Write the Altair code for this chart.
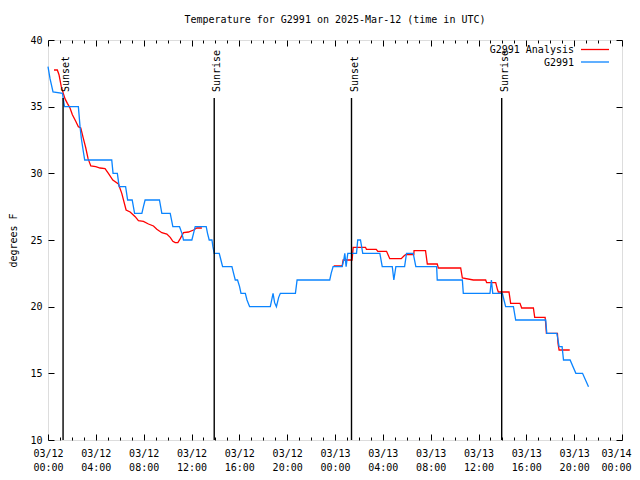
import altair as alt
import pandas as pd

FONT = "DejaVu Sans Mono"

# ---- data (hours after 2025-03-12 00:00 UTC, temperature in degF) ----
obs_hours = [0.00, 0.17, 0.42, 1.21, 1.38, 2.54, 2.68, 2.79, 2.96, 3.07, 5.33, 5.44, 5.80, 5.95,
             6.49, 6.66, 7.04, 7.24, 7.85, 7.98, 8.12, 9.32, 9.52, 10.22, 10.44, 11.00, 11.20,
             11.33, 12.03, 12.17, 12.31, 13.23, 13.34, 13.48, 13.71, 13.79, 13.90, 14.32, 14.46,
             14.60, 15.38, 15.52, 15.66, 15.85, 16.02, 16.14, 16.50, 16.64, 16.86, 18.59, 18.82,
             18.95, 19.10, 19.29, 19.43, 20.69, 20.83, 23.56, 23.68, 23.84, 24.60, 24.73, 24.82,
             24.93, 25.07, 25.80, 25.90, 26.13, 26.32, 27.75, 27.95, 28.79, 28.92, 29.09, 29.82,
             29.98, 30.54, 30.76, 32.50, 32.55, 34.65, 34.73, 36.96, 37.08, 37.19, 38.00, 38.13,
             38.27, 38.92, 39.11, 41.62, 41.71, 42.55, 42.65, 42.74, 42.99, 43.11, 43.66, 44.14,
             44.70, 45.20]
obs_temps = [38.0, 37.1, 36.1, 36.0, 35.0, 35.0, 33.5, 32.6, 31.6, 31.0, 31.0, 30.0, 30.0, 29.0,
             29.0, 28.0, 28.0, 27.0, 27.0, 27.5, 28.0, 28.0, 27.0, 27.0, 26.0, 26.0, 25.5,
             25.0, 25.0, 25.5, 26.0, 26.0, 25.5, 25.0, 25.0, 24.5, 24.0, 24.0, 23.5,
             23.0, 23.0, 22.5, 22.0, 22.0, 21.5, 21.0, 21.0, 20.5, 20.0, 20.0, 21.0,
             20.3, 20.0, 20.7, 21.0, 21.0, 22.0, 22.0, 22.5, 23.0, 23.0, 23.5, 24.0,
             23.0, 24.0, 24.0, 25.0, 25.0, 24.0, 24.0, 23.0, 23.0, 22.0, 23.0, 23.0,
             24.0, 24.0, 23.0, 23.0, 22.0, 22.0, 21.0, 21.0, 22.0, 21.0, 21.0, 20.5,
             20.0, 20.0, 19.0, 19.0, 18.0, 18.0, 17.5, 17.0, 17.0, 16.0, 16.0, 15.0,
             15.0, 14.0]

ana1_hours = [0.50, 0.78, 0.92, 1.11, 1.28, 1.42, 1.62, 1.84, 2.04, 2.32, 2.54, 2.74, 2.96, 3.16,
              3.35, 3.58, 3.99, 4.36, 4.77, 5.05, 5.42, 5.89, 6.17, 6.53, 6.87, 7.29, 7.56, 7.98,
              8.40, 8.82, 9.10, 9.52, 9.94, 10.22, 10.44, 10.64, 10.86, 11.06, 11.33, 11.75,
              12.17, 12.45, 12.87]
ana1_temps = [37.75, 37.75, 37.4, 36.5, 36.0, 35.6, 35.25, 34.9, 34.4, 33.9, 33.5, 33.4, 32.6, 31.9,
              31.1, 30.55, 30.5, 30.4, 30.35, 30.0, 29.5, 29.2, 28.5, 27.25, 27.1, 26.75, 26.45, 26.4,
              26.2, 26.05, 25.8, 25.55, 25.45, 25.2, 24.9, 24.8, 24.8, 25.1, 25.55, 25.6,
              25.75, 25.9, 25.9]

ana2_hours = [23.89, 24.60, 24.68, 25.43, 25.52, 26.55, 26.63, 27.45, 27.58, 28.31, 28.58, 29.54,
              29.76, 29.90, 30.59, 30.61, 31.57, 31.72, 32.55, 32.64, 34.51, 34.65, 35.57, 36.60,
              36.68, 37.44, 37.58, 37.66, 38.55, 38.69, 39.47, 39.61, 40.59, 40.70, 41.57, 41.62,
              41.68, 42.60, 42.65, 42.74, 43.63]
ana2_temps = [23.05, 23.05, 23.5, 23.5, 24.45, 24.45, 24.3, 24.3, 24.15, 24.15, 23.6, 23.6,
              23.8, 23.9, 23.9, 24.2, 24.2, 23.2, 23.2, 22.9, 22.9, 22.15, 22.0, 22.0,
              21.8, 21.8, 21.3, 21.1, 21.1, 20.25, 20.25, 19.9, 19.9, 19.2, 19.2, 18.75,
              18.0, 18.0, 17.25, 16.75, 16.75]

event_hours = [1.26, 13.90, 25.38, 37.94, 49.40]
event_labels = ["Sunset", "Sunrise", "Sunset", "Sunrise", "Sunset"]

y_ticks = [10, 15, 20, 25, 30, 35, 40]
x_tick_hours = list(range(0, 49))

series_names = ["G2991 Analysis", "G2991"]
series_colors = ["#ff0000", "#0a84ff"]

T0 = pd.Timestamp("2025-03-12T00:00:00Z")


def iso(hours):
    return [(T0 + pd.Timedelta(hours=h)).strftime("%Y-%m-%dT%H:%M:%SZ") for h in hours]


def dt(h):
    return alt.DateTime(year=2025, month=3, date=12 + h // 24, hours=h % 24, utc=True)


obs_df = pd.DataFrame({"time": iso(obs_hours), "temp": obs_temps})
ana_df = pd.DataFrame({
    "time": iso(ana1_hours) + iso(ana2_hours),
    "temp": ana1_temps + ana2_temps,
    "seg": [1] * len(ana1_hours) + [2] * len(ana2_hours),
})
ev_df = pd.DataFrame({"time": iso(event_hours), "label": event_labels})

x_scale = alt.Scale(type="utc", domain=[dt(0), dt(48)], nice=False)
y_scale = alt.Scale(domain=[10, 40], nice=False, zero=False)

x_axis = alt.Axis(
    values=[dt(h) for h in x_tick_hours],
    labelExpr="utchours(datum.value) % 4 == 0 ? [utcFormat(datum.value, '%m/%d'), utcFormat(datum.value, '%H:%M')] : ''",
    grid=True, gridColor="black", gridWidth=1, gridOpacity=1,
    gridDash={"condition": {"test": "utchours(datum.value) % 4 == 0", "value": [6, 388, 6, 400]},
              "value": [3, 394, 3, 400]},
    labelOffset={"condition": {"test": "utcdate(datum.value) == 14", "value": -6}, "value": 0},
    ticks=False, domain=False, labelOverlap=False, labelFlush=False, labelBound=False,
    labelFont=FONT, labelFontSize=10, labelColor="black", labelPadding=8,
    labelLineHeight=14, labelBaseline="top", title=None,
)
y_axis = alt.Axis(
    values=y_ticks, grid=True, gridColor="black", gridWidth=1, gridOpacity=1,
    gridDash=[6, 562, 6, 600], ticks=False, domain=False,
    labelFont=FONT, labelFontSize=10, labelColor="black", labelPadding=6,
    title="degrees F", titleFont=FONT, titleFontSize=10, titleFontWeight="normal",
    titleColor="black", titlePadding=11,
)

X = alt.X("time:T", scale=x_scale, axis=x_axis)
Y = alt.Y("temp:Q", scale=y_scale, axis=y_axis)

ana_line = alt.Chart(ana_df).mark_line(color=series_colors[0], strokeWidth=1.3).encode(
    x=X, y=Y, detail="seg:N")
obs_line = alt.Chart(obs_df).mark_line(color=series_colors[1], strokeWidth=1.3).encode(x=X, y=Y)

ev_rule = alt.Chart(ev_df).mark_rule(color="black", strokeWidth=1.4).encode(
    x=X, y=alt.value(58), y2=alt.value(400))
ev_text = alt.Chart(ev_df).mark_text(
    angle=270, align="left", baseline="alphabetic", dy=6, font=FONT, fontSize=10, color="black"
).encode(x=X, text="label:N", y=alt.value(52))

leg_df = pd.DataFrame({"name": series_names, "color": series_colors, "row": [0, 1]})
leg_text = []
leg_rule = []
for i, (nm, col) in enumerate(zip(series_names, series_colors)):
    sub = leg_df[leg_df["row"] == i]
    leg_text.append(alt.Chart(sub).mark_text(
        align="right", baseline="middle", font=FONT, fontSize=10, color="black"
    ).encode(text="name:N", x=alt.value(526), y=alt.value(10 + 12.5 * i)))
    leg_rule.append(alt.Chart(sub).mark_rule(color=col, strokeWidth=1.3).encode(
        x=alt.value(533), x2=alt.value(561), y=alt.value(9.5 + 12.5 * i)))

chart = alt.layer(ana_line, obs_line, ev_rule, ev_text, *leg_text, *leg_rule).properties(
    width=574, height=400,
    title=alt.Title("Temperature for G2991 on 2025-Mar-12 (time in UTC)", font=FONT,
                    fontSize=10, fontWeight="normal", color="black", offset=10),
    autosize=alt.AutoSizeParams(type="none"),
    padding={"left": 40, "top": 32, "right": 10, "bottom": 32},
).configure_view(stroke="black", strokeWidth=1).configure(background="white")

chart.save("out.html", embed_options={"renderer": "svg", "actions": False})
